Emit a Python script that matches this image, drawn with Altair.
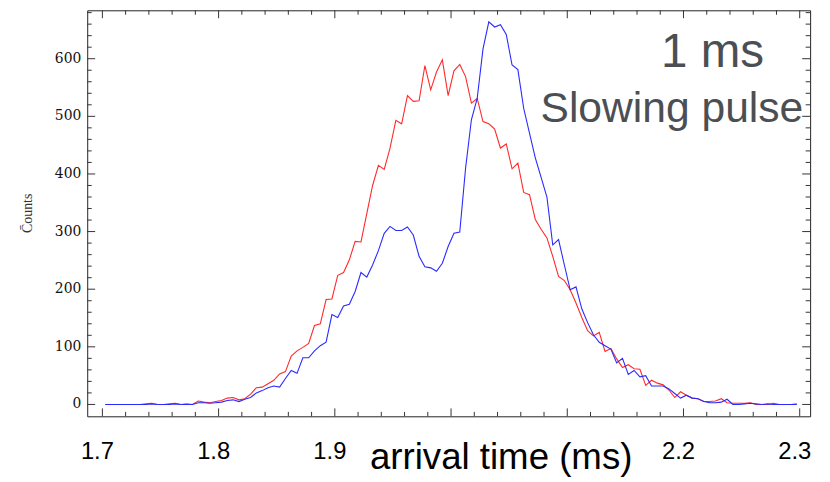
import altair as alt
import pandas as pd

# ---- data (bin centres every 0.005 ms from 1.7025 ms) ----
red_counts = [
    0, 0, 0, 0, 0, 0, 0, 1, 2, 0,
    0, 1, 2, 0, 1, 0, 6, 4, 3, 5,
    7, 11, 12, 8, 10, 18, 29, 30, 36, 42,
    53, 57, 84, 93, 99, 106, 137, 140, 182, 183,
    224, 229, 251, 283, 282, 331, 380, 415, 408, 445,
    493, 487, 536, 526, 527, 588, 546, 577, 598, 536,
    579, 590, 569, 523, 531, 491, 487, 478, 445, 452,
    409, 419, 368, 364, 321, 304, 289, 257, 222, 215,
    199, 176, 151, 128, 119, 125, 92, 97, 79, 64,
    69, 62, 61, 33, 42, 37, 34, 25, 12, 22,
    16, 11, 10, 5, 5, 6, 10, 3, 2, 2,
    2, 3, 0, 0, 0, 2, 0, 0, 0, 1,
]
blue_counts = [
    0, 0, 0, 0, 0, 0, 0, 0, 1, 0,
    0, 0, 1, 0, 0, 0, 3, 3, 2, 3,
    4, 7, 8, 5, 9, 12, 20, 24, 29, 32,
    30, 45, 59, 54, 81, 81, 93, 102, 108, 156,
    151, 171, 174, 196, 229, 221, 242, 267, 297, 309,
    302, 302, 308, 294, 257, 239, 237, 231, 245, 274,
    297, 299, 410, 494, 531, 617, 664, 655, 659, 642,
    589, 581, 514, 471, 428, 394, 360, 277, 286, 242,
    199, 204, 166, 142, 121, 108, 102, 96, 72, 80,
    52, 59, 48, 50, 32, 32, 32, 27, 19, 11,
    16, 11, 10, 5, 3, 3, 4, 9, 0, 0,
    1, 2, 1, 0, 1, 0, 0, 0, 0, 0,
]
times = [round(1.7025 + 0.005 * i, 4) for i in range(len(red_counts))]

x_label_values = [1.7, 1.8, 1.9, 2.2, 2.3]
x_label_text = ["1.7", "1.8", "1.9", "2.2", "2.3"]
y_label_values = [0, 100, 200, 300, 400, 500, 600]
y_label_text = ["0", "100", "200", "300", "400", "500", "600"]
x_major_ticks = [1.7, 1.8, 1.9, 2.0, 2.1, 2.2, 2.3]
x_minor_ticks = [round(1.70 + 0.02 * i, 2) for i in range(31) if i % 5 != 0]
y_major_ticks = [0, 100, 200, 300, 400, 500, 600]
y_minor_ticks = [v for v in range(0, 681, 20) if v % 100 != 0]
x_title = "arrival time (ms)"
y_title = "C\u0304ounts"

ann_big = pd.DataFrame({"t": [2.225], "counts": [586], "txt": ["1 ms"]})
ann_small = pd.DataFrame({"t": [2.19], "counts": [490], "txt": ["Slowing pulse"]})

df_red = pd.DataFrame({"t": times, "counts": red_counts})
df_blue = pd.DataFrame({"t": times, "counts": blue_counts})
df_xmaj = pd.DataFrame({"t": x_major_ticks})
df_xmin = pd.DataFrame({"t": x_minor_ticks})
df_ymaj = pd.DataFrame({"counts": y_major_ticks})
df_ymin = pd.DataFrame({"counts": y_minor_ticks})
df_xlab = pd.DataFrame({"t": x_label_values, "lab": x_label_text})
df_ylab = pd.DataFrame({"counts": y_label_values, "lab": y_label_text})
df_titles = pd.DataFrame({"x_title": [x_title], "y_title": [y_title]})

W, H = 730, 410
MAJ, MIN = 8, 4.5
TICK_COLOR = "#333"
x_scale = alt.Scale(domain=[1.68696, 2.30895], nice=False, zero=False)
y_scale = alt.Scale(domain=[-20.6, 684], nice=False, zero=False)

X = alt.X("t:Q", scale=x_scale, axis=None)
Y = alt.Y("counts:Q", scale=y_scale, axis=None)

red_line = alt.Chart(df_red).mark_line(color="#ff2a2a", strokeWidth=1.1).encode(x=X, y=Y)
blue_line = alt.Chart(df_blue).mark_line(color="#2a2aff", strokeWidth=1.1).encode(x=X, y=Y)


# inward frame ticks (Mathematica-style frame): rules placed through the scales
def x_ticks(df, length, at_top):
    y0, y1 = (0, length) if at_top else (H, H - length)
    return alt.Chart(df).mark_rule(color=TICK_COLOR, strokeWidth=1).encode(
        x=X, y=alt.value(y0), y2=alt.value(y1),
    )


def y_ticks(df, length, at_right):
    x0, x1 = (W, W - length) if at_right else (0, length)
    return alt.Chart(df).mark_rule(color=TICK_COLOR, strokeWidth=1).encode(
        y=Y, x=alt.value(x0), x2=alt.value(x1),
    )


tick_layers = [
    x_ticks(df_xmaj, MAJ, False), x_ticks(df_xmin, MIN, False),
    x_ticks(df_xmaj, MAJ, True), x_ticks(df_xmin, MIN, True),
    y_ticks(df_ymaj, MAJ, False), y_ticks(df_ymin, MIN, False),
    y_ticks(df_ymaj, MAJ, True), y_ticks(df_ymin, MIN, True),
]

# tick labels and axis titles
x_labels = alt.Chart(df_xlab).mark_text(
    font="Liberation Sans", fontSize=24, color="#000", align="center",
    baseline="alphabetic", dx=-5).encode(x=X, y=alt.value(H + 43), text="lab:N")
y_labels = alt.Chart(df_ylab).mark_text(
    font="DejaVu Serif", fontSize=14, color="#111", align="right",
    baseline="middle").encode(y=Y, x=alt.value(-6), text="lab:N")
x_title_mark = alt.Chart(df_titles).mark_text(
    font="Liberation Sans", fontSize=37, color="#000", align="center",
    baseline="alphabetic").encode(x=alt.value(418), y=alt.value(H + 53), text="x_title:N")
y_title_mark = alt.Chart(df_titles).mark_text(
    font="Liberation Serif", fontSize=14, color="#333", align="center",
    baseline="middle", angle=270).encode(x=alt.value(-60), y=alt.value(H / 2), text="y_title:N")

text_big = alt.Chart(ann_big).mark_text(
    font="Liberation Sans", fontSize=48, color="#4b4f54", align="center",
    baseline="alphabetic").encode(x=X, y=Y, text="txt:N")
text_small = alt.Chart(ann_small).mark_text(
    font="Liberation Sans", fontSize=43, color="#4b4f54", align="center",
    baseline="alphabetic").encode(x=X, y=Y, text="txt:N")

chart = alt.layer(
    red_line, blue_line, *tick_layers, x_labels, y_labels, x_title_mark, y_title_mark,
    text_big, text_small,
).properties(
    width=W, height=H,
    autosize=alt.AutoSizeParams(type="none"),
    padding={"left": 80, "top": 0, "right": 12, "bottom": 64},
    background="white",
).configure_view(stroke="#222", strokeWidth=1)

chart.save("out.html", embed_options={"renderer": "svg", "actions": False})
